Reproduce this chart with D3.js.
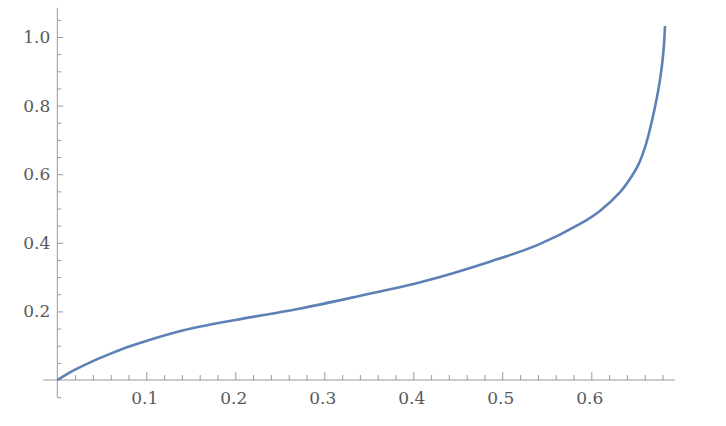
<!DOCTYPE html>
<html>
<head>
<meta charset="utf-8">
<script src="https://cdn.jsdelivr.net/npm/d3@7"></script>
<style>
  body { margin: 0; background: #fff; }
  .axis path, .axis line { stroke: #9a9a9a; }
  .axis text { fill: #595959; font-family: "DejaVu Serif", serif; font-size: 17px; }
</style>
</head>
<body>
<svg id="chart" width="726" height="426"></svg>
<script>
// curve
var xs = [0, 0.01, 0.02, 0.04, 0.06, 0.08, 0.10, 0.142, 0.20, 0.27, 0.336, 0.411, 0.486, 0.54, 0.5873, 0.6096, 0.6321, 0.6434, 0.6528, 0.6603, 0.6659, 0.6715, 0.6775, 0.6812, 0.6828];
var ys = [0, 0.016, 0.030, 0.055, 0.077, 0.097, 0.114, 0.145, 0.175, 0.207, 0.243, 0.287, 0.345, 0.394, 0.455, 0.493, 0.547, 0.586, 0.627, 0.678, 0.731, 0.795, 0.880, 0.962, 1.032];

var xMajor = [0.1, 0.2, 0.3, 0.4, 0.5, 0.6];
var yMajor = [0.2, 0.4, 0.6, 0.8, 1.0];
var xMinor = d3.range(1, 35).map(function(i) { return i * 0.02; }).filter(function(v) { return Math.round(v * 100) % 10 !== 0; });
var yMinor = [-0.05].concat(d3.range(1, 22).map(function(i) { return i * 0.05; }).filter(function(v) { return Math.round(v * 100) % 20 !== 0; }));

var svg = d3.select("#chart");

// scales
var x = d3.scaleLinear().domain([0, 0.6]).range([57.3, 591.3]);
var y = d3.scaleLinear().domain([0, 1]).range([380, 37]);

//////////////////
// x axis
//////////////////
var gx = svg.append("g").attr("class", "axis").attr("transform", "translate(0," + y(0) + ")");

gx.append("line")
    .attr("x1", x(-0.016)).attr("x2", x(0.694))
    .attr("y1", 0).attr("y2", 0);

gx.append("g")
    .call(d3.axisBottom(x).tickValues(xMinor).tickSize(-5).tickFormat(""))
    .call(function(g) { g.select(".domain").remove(); });

gx.append("g")
    .call(d3.axisBottom(x).tickValues(xMajor).tickSize(-8).tickPadding(12).tickFormat(d3.format(".1f")))
    .call(function(g) { g.select(".domain").remove(); })
    .selectAll("text").attr("dx", -2);

//////////////////
// y axis
//////////////////
var gy = svg.append("g").attr("class", "axis").attr("transform", "translate(" + x(0) + ",0)");

gy.append("line")
    .attr("x1", 0).attr("x2", 0)
    .attr("y1", y(-0.05)).attr("y2", y(1.085));

gy.append("g")
    .call(d3.axisLeft(y).tickValues(yMinor).tickSize(-4).tickFormat(""))
    .call(function(g) { g.select(".domain").remove(); });

gy.append("g")
    .call(d3.axisLeft(y).tickValues(yMajor).tickSize(-6).tickPadding(7).tickFormat(d3.format(".1f")))
    .call(function(g) { g.select(".domain").remove(); });

//////////////////
// curve
//////////////////
var line = d3.line()
    .x(function(d) { return x(d[0]); })
    .y(function(d) { return y(d[1]); })
    .curve(d3.curveCatmullRom.alpha(0.5));

svg.append("path")
    .datum(d3.zip(xs, ys))
    .attr("fill", "none")
    .attr("stroke", "#5e81b5")
    .attr("stroke-width", 2.6)
    .attr("d", line);
</script>
</body>
</html>
